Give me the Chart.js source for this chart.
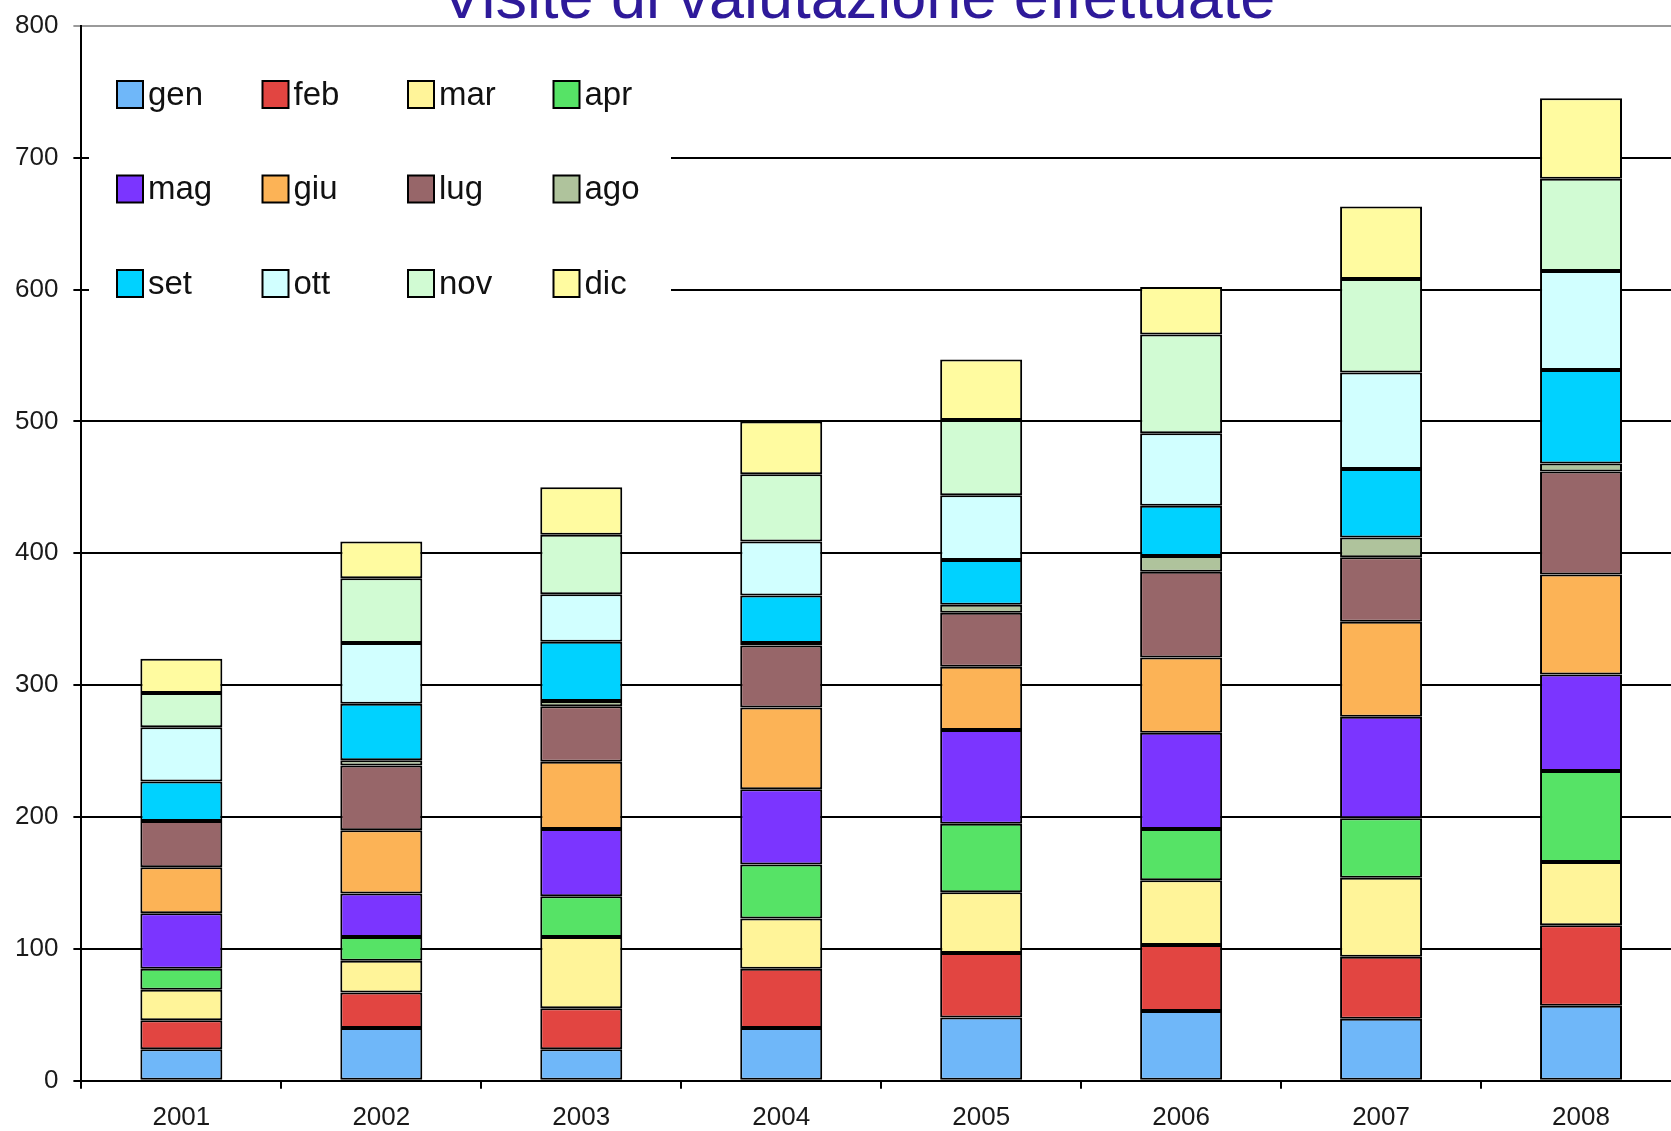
<!DOCTYPE html>
<html>
<head>
<meta charset="utf-8">
<title>Visite di valutazione effettuate</title>
<script src="https://cdn.jsdelivr.net/npm/chart.js@4.4.1/dist/chart.umd.min.js"></script>
<style>
  html, body { margin: 0; padding: 0; background: #fff; overflow: hidden; }
  /* a bit larger than the window: the slide is cut at the right and bottom */
  #chartBox { position: relative; width: 1681px; height: 1146px; }
</style>
</head>
<body>
<div id="chartBox"><canvas id="myChart"></canvas></div>
<script>
const chartTitle = "Visite di valutazione effettuate";
const years = ["2001", "2002", "2003", "2004", "2005", "2006", "2007", "2008"];
const months = ["gen", "feb", "mar", "apr", "mag", "giu", "lug", "ago", "set", "ott", "nov", "dic"];

// visite per mese, un valore per anno
const gen = [24, 40, 24, 40, 48, 53, 47, 57];
const feb = [22, 27, 31, 45, 49, 50, 47, 61];
const mar = [23, 24, 54, 38, 46, 49, 60, 48];
const apr = [16, 18, 31, 41, 52, 39, 45, 69];
const mag = [42, 33, 51, 57, 71, 73, 77, 73];
const giu = [35, 48, 51, 62, 48, 57, 72, 76];
const lug = [35, 49, 42, 47, 41, 65, 49, 78];
const ago = [0, 4, 4, 2, 6, 12, 15, 6];
const set = [30, 43, 45, 36, 34, 38, 52, 71];
const ott = [41, 46, 36, 41, 49, 55, 73, 75];
const nov = [26, 49, 45, 51, 57, 75, 71, 70];
const dic = [26, 28, 36, 40, 46, 36, 55, 61];

const monthValues = [gen, feb, mar, apr, mag, giu, lug, ago, set, ott, nov, dic];
const monthColors = ["#6FB7F9", "#E24541", "#FFF499", "#56E366", "#7B35FF", "#FCB356",
                     "#976669", "#AFC39C", "#00D2FF", "#D1FFFF", "#D1FBD3", "#FFFBA0"];

const yMax = 800;
const yStep = 100;

const fontFamily = "Arial, 'Liberation Sans', sans-serif";

// legend drawn inside the plot, on a white box that hides the grid
const boxLegend = {
  id: "boxLegend",
  beforeDatasetsDraw(chart) {
    const ctx = chart.ctx;
    ctx.save();
    ctx.fillStyle = "#fff";
    ctx.fillRect(89, 40, 582, 290);
    ctx.font = "33px " + fontFamily;
    ctx.textBaseline = "middle";
    chart.data.datasets.forEach((ds, i) => {
      const x = 117 + (i % 4) * 145.5;
      const y = 94.5 + Math.floor(i / 4) * 94.5;
      ctx.fillStyle = ds.backgroundColor;
      ctx.fillRect(x, y - 13.5, 26, 27);
      ctx.lineWidth = 2;
      ctx.strokeStyle = "#000";
      ctx.strokeRect(x, y - 13.5, 26, 27);
      ctx.fillStyle = "#111";
      ctx.fillText(ds.label, x + 31, y + 1);
    });
    ctx.restore();
  }
};

// title, cut by the top edge like in the slide
const cutTitle = {
  id: "cutTitle",
  afterDraw(chart) {
    const ctx = chart.ctx;
    ctx.save();
    ctx.font = "63px " + fontFamily;
    ctx.textAlign = "center";
    ctx.textBaseline = "alphabetic";
    ctx.fillStyle = "#2E1A9A";
    ctx.fillText(chartTitle, 858, 18);
    ctx.restore();
  }
};

const datasets = months.map((m, i) => ({
  label: m,
  data: monthValues[i],
  backgroundColor: monthColors[i],
  borderColor: "#000",
  borderWidth: 2,
  borderSkipped: false,
  barPercentage: 0.41,
  categoryPercentage: 1,
  stack: "mesi"
}));

const config = {
  type: "bar",
  data: { labels: years, datasets: datasets },
  options: {
    responsive: true,
    maintainAspectRatio: false,
    animation: false,
    layout: { padding: { left: 0, right: 0, top: 0, bottom: 0 } },
    plugins: {
      legend: { display: false },
      tooltip: { enabled: false },
      title: { display: false }
    },
    scales: {
      x: {
        stacked: true,
        grid: { drawOnChartArea: false, drawTicks: true, tickLength: 8, color: "#000", lineWidth: 2 },
        border: { display: true, color: "#000", width: 2 },
        ticks: { color: "#1a1a1a", padding: 13, font: { family: fontFamily, size: 26 } }
      },
      y: {
        stacked: true,
        min: 0,
        max: yMax,
        grid: {
          color: (c) => (c.tick && c.tick.value === yMax ? "#9a9a9a" : "#000"),
          lineWidth: 2,
          tickLength: 8
        },
        border: { display: true, color: "#000", width: 2 },
        ticks: { stepSize: yStep, color: "#1a1a1a", padding: 15, font: { family: fontFamily, size: 26, lineHeight: 0.83 } }
      }
    }
  },
  plugins: [boxLegend, cutTitle]
};

const myChart = new Chart(document.getElementById("myChart"), config);
</script>
</body>
</html>
